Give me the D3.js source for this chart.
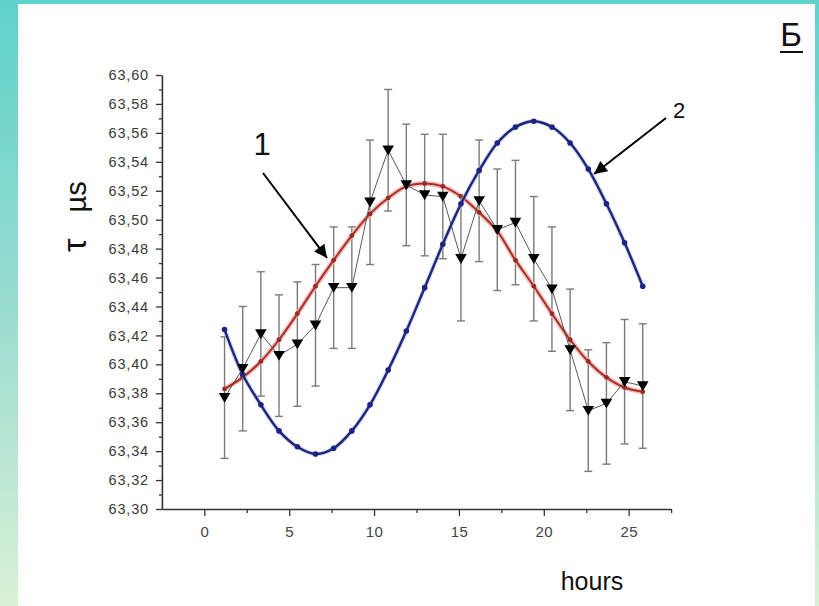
<!DOCTYPE html>
<html>
<head>
<meta charset="utf-8">
<script src="https://cdn.jsdelivr.net/npm/d3@7/dist/d3.min.js"></script>
<style>
  html, body { margin: 0; padding: 0; background: #fff; }
  svg { display: block; }
  text { font-family: Arial, "Liberation Sans", sans-serif; }
</style>
</head>
<body>
<svg id="chart" width="819" height="606"></svg>
<script>
// Time of each sample on the hours axis
const hours = [1.19, 2.26, 3.33, 4.40, 5.48, 6.55, 7.62, 8.69, 9.76, 10.83, 11.90, 12.98,
               14.05, 15.12, 16.19, 17.26, 18.33, 19.41, 20.48, 21.55, 22.62, 23.69, 24.76, 25.83];

// Curve 1 (fitted), µs
const curve1 = [63.383, 63.391, 63.402, 63.417, 63.435, 63.454, 63.472, 63.489, 63.504, 63.515, 63.523, 63.525,
                63.523, 63.516, 63.505, 63.492, 63.472, 63.454, 63.435, 63.417, 63.402, 63.391, 63.384, 63.381];

// Curve 2, µs
const curve2 = [63.424, 63.393, 63.372, 63.354, 63.343, 63.338, 63.342, 63.354, 63.372, 63.396, 63.423, 63.453,
                63.483, 63.511, 63.534, 63.553, 63.564, 63.568, 63.564, 63.553, 63.535, 63.511, 63.484, 63.454];

// Measured τ and its error, µs
const measured = [63.377, 63.397, 63.421, 63.406, 63.414, 63.427, 63.453, 63.453, 63.512, 63.548, 63.524, 63.517,
                  63.516, 63.473, 63.513, 63.493, 63.498, 63.473, 63.452, 63.410, 63.368, 63.373, 63.388, 63.385];
const measuredErr = [0.042, 0.043, 0.043, 0.042, 0.043, 0.042, 0.042, 0.042, 0.043, 0.042, 0.042, 0.042,
                     0.043, 0.043, 0.042, 0.042, 0.043, 0.043, 0.043, 0.042, 0.042, 0.042, 0.043, 0.043];

const xTicks = [0, 5, 10, 15, 20, 25];
const xMinorTicks = [2.5, 7.5, 12.5, 17.5, 22.5, 27.5];
const yTicks = [63.30, 63.32, 63.34, 63.36, 63.38, 63.40, 63.42, 63.44, 63.46, 63.48, 63.50,
                63.52, 63.54, 63.56, 63.58, 63.60];
const yMinorTicks = [63.31, 63.33, 63.35, 63.37, 63.39, 63.41, 63.43, 63.45, 63.47, 63.49, 63.51,
                     63.53, 63.55, 63.57, 63.59];

const svg = d3.select("#chart");

// Framed page background
const defs = svg.append("defs");
const grad = defs.append("linearGradient").attr("id", "bg").attr("x1", 0).attr("y1", 0).attr("x2", 0).attr("y2", 1);
grad.append("stop").attr("offset", "0%").attr("stop-color", "#5ed3cb");
grad.append("stop").attr("offset", "50%").attr("stop-color", "#98dccf");
grad.append("stop").attr("offset", "100%").attr("stop-color", "#d9f1d6");
svg.append("rect").attr("width", 819).attr("height", 606).attr("fill", "url(#bg)");
svg.append("rect").attr("x", 0).attr("y", 0).attr("width", 819).attr("height", 4).attr("fill", "#5ed3cb");
svg.append("rect").attr("x", 18).attr("y", 4).attr("width", 797).attr("height", 602).attr("fill", "#ffffff");

const x = d3.scaleLinear().domain([-2.5, 27.5]).range([161.9, 671.1]);
const y = d3.scaleLinear().domain([63.30, 63.60]).range([509, 75]);
const fmt = v => d3.format(".2f")(v).replace(".", ",");

// Axes
const xAxis = svg.append("g").attr("transform", `translate(0,${y(63.30)})`)
  .call(d3.axisBottom(x).tickValues(xTicks).tickSize(7).tickSizeOuter(0).tickPadding(10).tickFormat(d3.format("d")));
svg.append("g").attr("transform", `translate(0,${y(63.30)})`)
  .call(d3.axisBottom(x).tickValues(xMinorTicks).tickSize(4).tickSizeOuter(0).tickFormat(""))
  .select(".domain").remove();
const yAxis = svg.append("g").attr("transform", `translate(${x(-2.5)},0)`)
  .call(d3.axisLeft(y).tickValues(yTicks).tickSize(6).tickSizeOuter(0).tickPadding(7).tickFormat(fmt));
svg.append("g").attr("transform", `translate(${x(-2.5)},0)`)
  .call(d3.axisLeft(y).tickValues(yMinorTicks).tickSize(3).tickSizeOuter(0).tickFormat(""))
  .select(".domain").remove();

svg.selectAll(".domain").attr("stroke", "#333").attr("stroke-width", 1.6);
svg.selectAll(".tick line").attr("stroke", "#333").attr("stroke-width", 1.3);
xAxis.selectAll(".tick text").attr("font-size", 15).attr("fill", "#444")
  .attr("font-family", "Arial, 'Liberation Sans', sans-serif").attr("letter-spacing", "0.4px");
yAxis.selectAll(".tick text").attr("font-size", 14.5).attr("fill", "#3a3a3a")
  .attr("font-family", "Arial, 'Liberation Sans', sans-serif").attr("letter-spacing", "0.8px");

// Axis titles
svg.append("text").attr("x", 592).attr("y", 590).attr("text-anchor", "middle")
  .attr("font-size", 25).attr("fill", "#111").text("hours");
const yTitle = svg.append("text").attr("transform", "translate(86,252) rotate(-90)")
  .attr("font-size", 29).attr("fill", "#111");
yTitle.append("tspan").attr("font-size", 34).text("τ");
yTitle.append("tspan").attr("dx", 26).text("µs");

// Panel letter
svg.append("text").attr("x", 791).attr("y", 46).attr("text-anchor", "middle")
  .attr("font-size", 33).attr("fill", "#111").text("Б");
svg.append("line").attr("x1", 780).attr("x2", 803).attr("y1", 52).attr("y2", 52)
  .attr("stroke", "#111").attr("stroke-width", 2);

const data = hours.map((h, i) => ({ h, c1: curve1[i], c2: curve2[i], m: measured[i], e: measuredErr[i] }));

// Error bars
const eb = svg.append("g").attr("stroke", "#7a7a7a").attr("stroke-width", 1.4).attr("fill", "none");
data.forEach(d => {
  const cx = x(d.h), y0 = y(d.m - d.e), y1 = y(d.m + d.e);
  eb.append("line").attr("x1", cx).attr("x2", cx).attr("y1", y0).attr("y2", y1);
  eb.append("line").attr("x1", cx - 4).attr("x2", cx + 4).attr("y1", y0).attr("y2", y0);
  eb.append("line").attr("x1", cx - 4).attr("x2", cx + 4).attr("y1", y1).attr("y2", y1);
});

const lineGen = key => d3.line().x(d => x(d.h)).y(d => y(d[key])).curve(d3.curveCatmullRom.alpha(0.5));

// Curve 1
svg.append("path").datum(data).attr("d", lineGen("c1")).attr("fill", "none")
  .attr("stroke", "#f2a8a4").attr("stroke-width", 5).attr("stroke-opacity", 0.75);
svg.append("path").datum(data).attr("d", lineGen("c1")).attr("fill", "none")
  .attr("stroke", "#a3322b").attr("stroke-width", 2);
svg.append("g").selectAll("circle").data(data).join("circle")
  .attr("cx", d => x(d.h)).attr("cy", d => y(d.c1)).attr("r", 2.4).attr("fill", "#9a2a25");

// Curve 2
svg.append("path").datum(data).attr("d", lineGen("c2")).attr("fill", "none")
  .attr("stroke", "#b8bde6").attr("stroke-width", 4.5).attr("stroke-opacity", 0.6);
svg.append("path").datum(data).attr("d", lineGen("c2")).attr("fill", "none")
  .attr("stroke", "#1d2577").attr("stroke-width", 2.4);
svg.append("g").selectAll("circle").data(data).join("circle")
  .attr("cx", d => x(d.h)).attr("cy", d => y(d.c2)).attr("r", 2.8).attr("fill", "#1a2388");

// Measured points joined by a thin line
svg.append("path").datum(data)
  .attr("d", d3.line().x(d => x(d.h)).y(d => y(d.m)))
  .attr("fill", "none").attr("stroke", "#444").attr("stroke-width", 0.9);
svg.append("g").selectAll("path").data(data).join("path")
  .attr("d", d => {
    const cx = x(d.h), cy = y(d.m);
    return `M${cx - 5.8},${cy - 4.7}L${cx + 5.8},${cy - 4.7}L${cx},${cy + 5.2}Z`;
  })
  .attr("fill", "#000");

// Curve labels with arrows
defs.append("marker").attr("id", "head").attr("viewBox", "0 0 10 10")
  .attr("refX", 10).attr("refY", 5)
  .attr("markerUnits", "userSpaceOnUse").attr("orient", "auto")
  .attr("markerWidth", 20).attr("markerHeight", 13)
  .append("path").attr("d", "M0,0L10,5L0,10Z").attr("fill", "#000");

svg.append("text").attr("x", 262).attr("y", 155).attr("text-anchor", "middle")
  .attr("font-size", 31).attr("fill", "#111").text("1");
svg.append("line").attr("x1", 263).attr("y1", 173).attr("x2", 327).attr("y2", 258)
  .attr("stroke", "#000").attr("stroke-width", 2).attr("marker-end", "url(#head)");

svg.append("text").attr("x", 679).attr("y", 118).attr("text-anchor", "middle")
  .attr("font-size", 22).attr("fill", "#111").text("2");
svg.append("line").attr("x1", 666).attr("y1", 118).attr("x2", 594).attr("y2", 174)
  .attr("stroke", "#000").attr("stroke-width", 2).attr("marker-end", "url(#head)");
</script>
</body>
</html>
